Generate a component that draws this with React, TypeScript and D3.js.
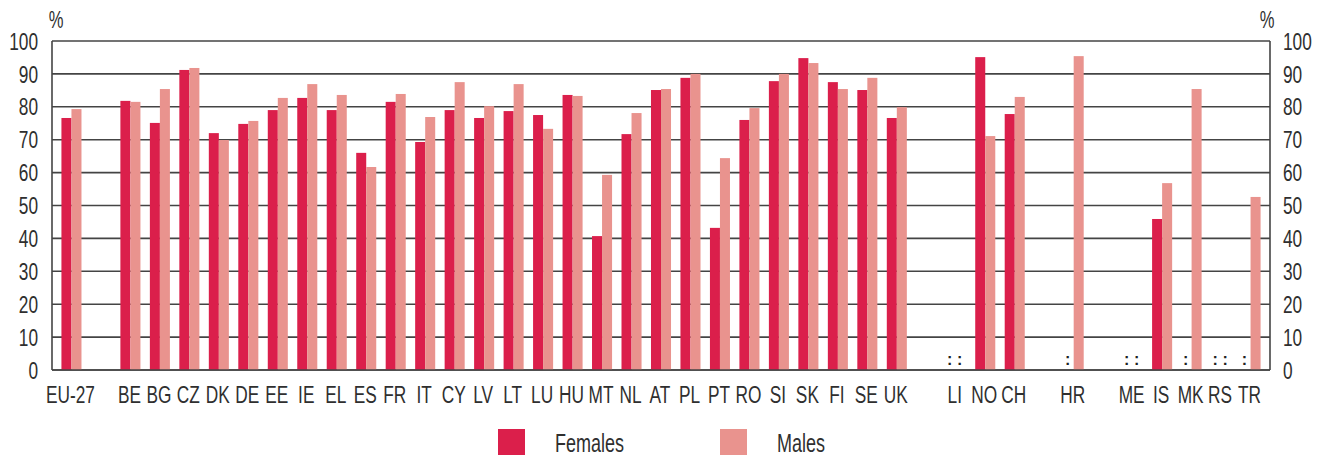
import React from "react";
import * as d3 from "d3";

const slots: string[] = [
  "EU-27", "_g1", "BE", "BG", "CZ", "DK", "DE", "EE", "IE", "EL", "ES", "FR", "IT",
  "CY", "LV", "LT", "LU", "HU", "MT", "NL", "AT", "PL", "PT", "RO", "SI", "SK", "FI",
  "SE", "UK", "_g2", "LI", "NO", "CH", "_g3", "HR", "_g4", "ME", "IS", "MK", "RS", "TR",
];

const categories: string[] = [
  "EU-27", "BE", "BG", "CZ", "DK", "DE", "EE", "IE", "EL", "ES", "FR", "IT",
  "CY", "LV", "LT", "LU", "HU", "MT", "NL", "AT", "PL", "PT", "RO", "SI", "SK", "FI",
  "SE", "UK", "LI", "NO", "CH", "HR", "ME", "IS", "MK", "RS", "TR",
];

const females: (number | null)[] = [
  76.6, 81.8, 75.1, 91.2, 72.0, 74.8, 79.0, 82.7, 79.0, 66.0, 81.5, 69.3,
  79.0, 76.6, 78.7, 77.5, 83.6, 40.7, 71.7, 85.1, 88.8, 43.2, 76.0, 87.8, 94.8, 87.5,
  85.1, 76.6, null, 95.1, 77.8, null, null, 45.9, null, null, null,
];

const males: (number | null)[] = [
  79.3, 81.5, 85.4, 91.8, 69.9, 75.7, 82.7, 86.9, 83.6, 61.7, 83.9, 76.9,
  87.5, 80.2, 86.9, 73.3, 83.3, 59.3, 78.1, 85.4, 90.0, 64.4, 79.6, 90.0, 93.3, 85.4,
  88.8, 79.9, null, 71.1, 83.0, 95.4, null, 56.8, 85.4, null, 52.6,
];

const yTicks: number[] = [0, 10, 20, 30, 40, 50, 60, 70, 80, 90, 100];
const seriesNames: string[] = ["Females", "Males"];
const colors: string[] = ["#DB1F4B", "#E9938E"];

const W = 1327;
const H = 455;
const left = 52;
const right = 1270;
const top = 41;
const bottom = 370;
const FONT = "'Liberation Sans', Arial, sans-serif";
const TXT = "#2f2f2f";
const SX = 0.72;

type TProps = {
  x: number;
  y: number;
  anchor?: "start" | "middle" | "end";
  size?: number;
  dy?: string;
  children: React.ReactNode;
};

function T({ x, y, anchor = "start", size = 24, dy, children }: TProps) {
  return (
    <text
      transform={`translate(${x},${y}) scale(${SX},1)`}
      textAnchor={anchor}
      fontSize={size}
      dy={dy}
      fill={TXT}
    >
      {children}
    </text>
  );
}

export default function App() {
  const x = d3.scaleBand<string>().domain(slots).range([left, right]).padding(0.32);
  const y = d3.scaleLinear().domain([0, 100]).range([bottom, top]);
  const sub = d3.scaleBand<string>().domain(seriesNames).range([0, x.bandwidth()]);

  return (
    <svg
      width={W}
      height={H}
      style={{ position: "absolute", left: 0, top: 0, background: "#fff" }}
      fontFamily={FONT}
    >
      {/* grid */}
      {yTicks.map((t) => (
        <line key={"g" + t} x1={left} x2={right} y1={y(t)} y2={y(t)} stroke="#444" strokeWidth={1.6} />
      ))}
      <line x1={left} x2={left} y1={top} y2={bottom} stroke="#444" strokeWidth={1.6} />
      <line x1={right} x2={right} y1={top} y2={bottom} stroke="#444" strokeWidth={1.6} />

      {/* bars */}
      {categories.map((c, i) => {
        const x0 = x(c)!;
        const vals = [females[i], males[i]];
        return (
          <g key={c}>
            {vals.map((v, j) => {
              const bx = x0 + sub(seriesNames[j])!;
              const bw = sub.bandwidth();
              if (v === null) {
                return (
                  <text
                    key={j}
                    x={bx + bw / 2 - 1}
                    y={bottom - 5}
                    textAnchor="middle"
                    fontSize={16}
                    fontWeight="bold"
                    fill="#222"
                  >
                    :
                  </text>
                );
              }
              return <rect key={j} x={bx} y={y(v)} width={bw} height={bottom - y(v)} fill={colors[j]} />;
            })}
          </g>
        );
      })}

      {/* bottom axis line over bars */}
      <line x1={left} x2={right} y1={bottom} y2={bottom} stroke="#444" strokeWidth={1.6} />

      {/* y labels */}
      {yTicks.map((t) => (
        <g key={"l" + t}>
          <T x={38} y={y(t)} dy="0.36em" anchor="end">{t}</T>
          <T x={1283} y={y(t)} dy="0.36em" anchor="start">{t}</T>
        </g>
      ))}
      <T x={56} y={28} anchor="middle" size={23}>%</T>
      <T x={1267} y={28} anchor="middle" size={23}>%</T>

      {/* x labels */}
      {categories.map((c) => (
        <T key={"x" + c} x={x(c)! + x.bandwidth() / 2 - 1} y={403} anchor="middle">
          {c}
        </T>
      ))}

      {/* legend */}
      <rect x={498} y={429} width={27} height={30} fill={colors[0]} />
      <T x={555} y={452} size={25}>{seriesNames[0]}</T>
      <rect x={720} y={429} width={27} height={30} fill={colors[1]} />
      <T x={777} y={452} size={25}>{seriesNames[1]}</T>
    </svg>
  );
}
